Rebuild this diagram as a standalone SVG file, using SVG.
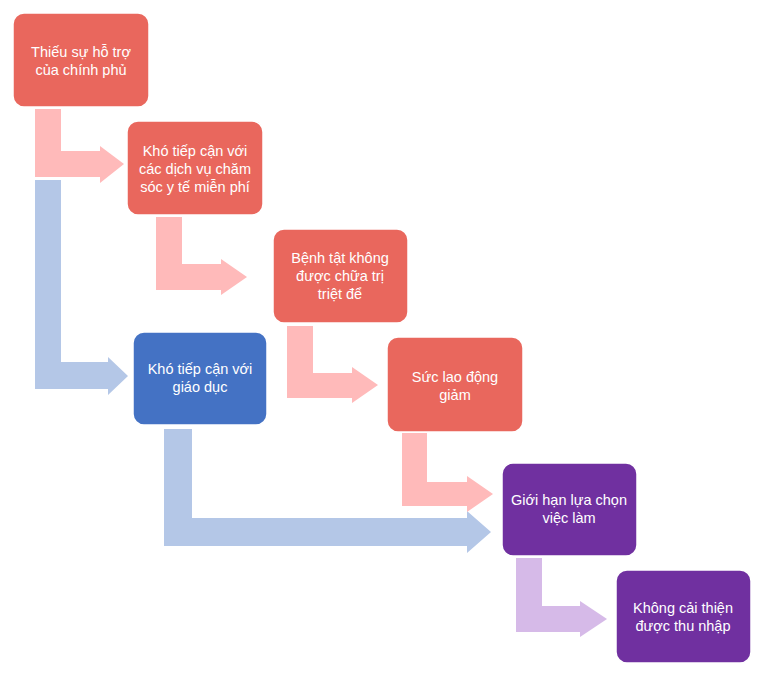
<svg xmlns="http://www.w3.org/2000/svg" width="763" height="675" viewBox="0 0 763 675">
<style>
.box rect{stroke:#fff;stroke-width:1.5}
.red rect{fill:#E9675D}
.blue rect{fill:#4472C4}
.purple rect{fill:#7030A0}
text{font-family:"Liberation Sans","Noto Sans",sans-serif;font-size:14.5px;fill:#fff;text-anchor:middle}
.pa{fill:#FFBABA}
.ba{fill:#B4C7E7}
.va{fill:#D6BAE8}
</style>
<rect width="763" height="675" fill="#fff"/>
<g id="connectors">
<polygon class="ba" points="35,180 61,180 61,362 108,362 108,357 128,376 108,395 108,389 35,389"/>
<polygon class="ba" points="164,429 192,429 192,518 467,518 467,511 491,532 467,553 467,546 164,546"/>
<polygon class="pa" points="35,109 61,109 61,151 100,151 100,146 124,164 100,183 100,177 35,177"/>
<polygon class="pa" points="156,217 182,217 182,264 221,264 221,259 247,277 221,295 221,290 156,290"/>
<polygon class="pa" points="287,326 313,326 313,373 352,373 352,367 378,385 352,403 352,398 287,398"/>
<polygon class="pa" points="402,433 427,433 427,482 467,482 467,476 493,494 467,512 467,506 402,506"/>
<polygon class="va" points="516,558 542,558 542,606 580,606 580,601 607,619 580,637 580,632 516,632"/>
</g>
<g id="n1" class="box red"><rect x="13" y="13" width="136" height="94" rx="11"/><text x="81" y="57">Thiếu sự hỗ trợ</text><text x="81" y="75">của chính phủ</text></g>
<g id="n2" class="box red"><rect x="127" y="121" width="136" height="94" rx="11"/><text x="195" y="156">Khó tiếp cận với</text><text x="195" y="174">các dịch vụ chăm</text><text x="195" y="192">sóc y tế miễn phí</text></g>
<g id="n3" class="box red"><rect x="273" y="229" width="135" height="94" rx="11"/><text x="340" y="263">Bệnh tật không</text><text x="340" y="281">được chữa trị</text><text x="340" y="299">triệt để</text></g>
<g id="n4" class="box blue"><rect x="133" y="332" width="134" height="93" rx="11"/><text x="200" y="374">Khó tiếp cận với</text><text x="200" y="392">giáo dục</text></g>
<g id="n5" class="box red"><rect x="387" y="337" width="136" height="95" rx="11"/><text x="455" y="382">Sức lao động</text><text x="455" y="400">giảm</text></g>
<g id="n6" class="box purple"><rect x="502" y="463" width="135" height="93" rx="11"/><text x="569" y="505">Giới hạn lựa chọn</text><text x="569" y="523">việc làm</text></g>
<g id="n7" class="box purple"><rect x="616" y="570" width="135" height="93" rx="11"/><text x="683" y="613">Không cải thiện</text><text x="683" y="631">được thu nhập</text></g>
</svg>
